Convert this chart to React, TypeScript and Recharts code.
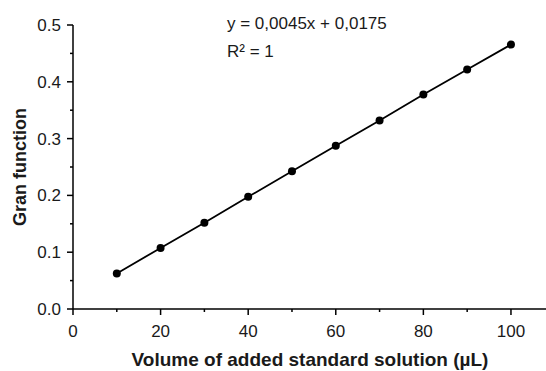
import { ComposedChart, Line, XAxis, YAxis } from "recharts";

const volumes = [10, 20, 30, 40, 50, 60, 70, 80, 90, 100];
const granValues = [0.0625, 0.1075, 0.152, 0.1975, 0.2425, 0.2875, 0.332, 0.3775, 0.4215, 0.4655];
const xTicks = [0, 10, 20, 30, 40, 50, 60, 70, 80, 90, 100];
const xLabels = [0, 20, 40, 60, 80, 100];
const yTicks = [0, 0.05, 0.1, 0.15, 0.2, 0.25, 0.3, 0.35, 0.4, 0.45, 0.5];
const yLabels = [0, 0.1, 0.2, 0.3, 0.4, 0.5];

const data = volumes.map((v, i) => ({ x: v, y: granValues[i] }));

const FONT = "'Liberation Sans', Arial, sans-serif";
const OFF = 8; // tickSize + tickMargin

const XTick = (props: any) => {
  const { x, y, payload } = props;
  const ay = y - OFF;
  const major = xLabels.includes(payload.value);
  return (
    <g>
      <line x1={x} x2={x} y1={ay} y2={ay + (major ? 6 : 3)} stroke="#000" strokeWidth={1.5} />
      {major && (
        <text x={x} y={ay + 28} textAnchor="middle" fontSize={17} fontFamily={FONT} fill="#1a1a1a">
          {payload.value}
        </text>
      )}
    </g>
  );
};

const YTick = (props: any) => {
  const { x, y, payload } = props;
  const ax = x + OFF;
  const major = yLabels.some((v) => Math.abs(v - payload.value) < 1e-9);
  return (
    <g>
      <line x1={ax} x2={ax - (major ? 6 : 3)} y1={y} y2={y} stroke="#000" strokeWidth={1.5} />
      {major && (
        <text x={ax - 12} y={y + 6} textAnchor="end" fontSize={17} fontFamily={FONT} fill="#1a1a1a">
          {payload.value.toFixed(1)}
        </text>
      )}
    </g>
  );
};

export default function App() {
  return (
    <div style={{ position: "absolute", left: 0, top: 0, width: 546, height: 371, background: "#fff" }}>
      <ComposedChart width={546} height={371} data={data} margin={{ top: 25, right: 0, bottom: 0, left: 0 }}>
        <XAxis
          type="number"
          dataKey="x"
          domain={[0, 108]}
          ticks={xTicks}
          tick={<XTick />}
          tickLine={false}
          tickSize={5}
          tickMargin={3}
          height={62}
          axisLine={{ stroke: "#000", strokeWidth: 1.5 }}
          interval={0}
          allowDataOverflow
        />
        <YAxis
          type="number"
          domain={[0, 0.5]}
          ticks={yTicks}
          tick={<YTick />}
          tickLine={false}
          tickSize={5}
          tickMargin={3}
          width={73}
          axisLine={{ stroke: "#000", strokeWidth: 1.5 }}
          interval={0}
        />
        <Line
          type="linear"
          dataKey="y"
          stroke="#000"
          strokeWidth={1.8}
          dot={{ r: 4, fill: "#000", stroke: "#000", strokeWidth: 0 }}
          isAnimationActive={false}
        />
      </ComposedChart>
      <div style={{ position: "absolute", left: 227, top: 14, fontFamily: FONT, fontSize: 17, color: "#1a1a1a", lineHeight: "20px" }}>
        y = 0,0045x + 0,0175
      </div>
      <div style={{ position: "absolute", left: 227, top: 42, fontFamily: FONT, fontSize: 17, color: "#1a1a1a", lineHeight: "20px" }}>
        R² = 1
      </div>
      <div style={{ position: "absolute", left: 10, top: 350, width: 600, textAlign: "center", fontFamily: FONT, fontWeight: "bold", fontSize: 19, color: "#1a1a1a", lineHeight: "20px" }}>
        Volume of added standard solution (µL)
      </div>
      <div style={{ position: "absolute", left: 20, top: 167, width: 0, height: 0 }}>
        <div style={{ position: "absolute", transform: "translate(-50%, -50%) rotate(-90deg)", whiteSpace: "nowrap", fontFamily: FONT, fontWeight: "bold", fontSize: 18, color: "#1a1a1a", lineHeight: "20px" }}>
          Gran function
        </div>
      </div>
    </div>
  );
}
